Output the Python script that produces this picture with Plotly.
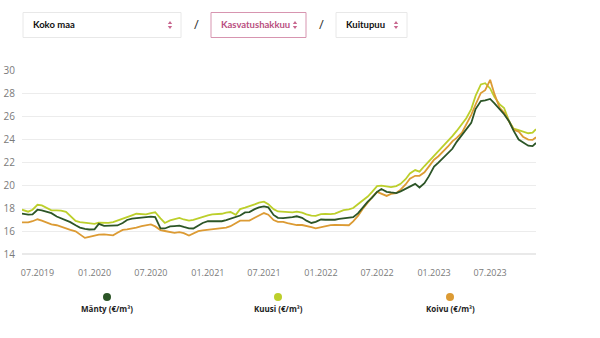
import pandas as pd
import plotly.graph_objects as go

# ---- data ----
dates = (["2019-05-12"] +
         [d.strftime("%Y-%m-%d") for d in pd.date_range("2019-06-01", "2023-11-15", freq="SMS")] +
         ["2023-11-26"])

manty = [17.52, 17.42, 17.45, 17.85, 17.8, 17.67, 17.55, 17.26, 17.12, 16.96,
         16.77, 16.5, 16.3, 16.18, 16.13, 16.15, 16.62, 16.45, 16.44, 16.43,
         16.48, 16.7, 16.96, 17.08, 17.13, 17.16, 17.18, 17.25, 17.2, 16.22,
         16.22, 16.4, 16.43, 16.46, 16.35, 16.23, 16.22, 16.48, 16.7, 16.85,
         16.85, 16.82, 16.85, 16.95, 17.08, 17.2, 17.35, 17.62, 17.65, 17.9,
         18.05, 18.14, 18.05, 17.4, 17.15, 17.12, 17.14, 17.2, 17.28, 17.15,
         16.9, 16.7, 16.8, 17.0, 16.98, 16.96, 16.98, 17.05, 17.1, 17.13,
         17.2, 17.55, 18.05, 18.55, 18.9, 19.4, 19.65, 19.4, 19.35, 19.3,
         19.45, 19.68, 19.9, 20.1, 19.78, 20.15, 20.75, 21.6, 21.95, 22.4,
         22.8, 23.15, 23.75, 24.35, 24.75, 25.4, 26.6, 27.3, 27.35, 27.48,
         27.1, 26.6, 26.15, 25.5, 24.7, 23.95, 23.7, 23.42, 23.38, 23.65]

kuusi = [17.85, 17.68, 17.85, 18.28, 18.22, 17.95, 17.8, 17.8, 17.77, 17.66,
         17.33, 16.88, 16.77, 16.72, 16.66, 16.62, 16.73, 16.73, 16.7, 16.78,
         16.9, 17.06, 17.21, 17.36, 17.5, 17.47, 17.45, 17.55, 17.63, 17.1,
         16.7, 16.92, 17.04, 17.14, 17.0, 16.9, 16.97, 17.12, 17.25, 17.35,
         17.44, 17.47, 17.5, 17.6, 17.65, 17.4, 17.9, 18.03, 18.14, 18.32,
         18.47, 18.55, 18.33, 17.9, 17.7, 17.65, 17.61, 17.62, 17.68, 17.6,
         17.45, 17.34, 17.32, 17.47, 17.48, 17.46, 17.52, 17.68, 17.81, 17.88,
         18.0, 18.35, 18.65, 19.0, 19.4, 19.9, 19.95, 19.87, 19.82, 19.9,
         20.1, 20.5, 21.0, 21.3, 21.16, 21.65, 22.05, 22.55, 22.95, 23.4,
         23.85, 24.25, 24.7, 25.25, 25.8, 26.6, 27.75, 28.74, 28.85, 28.4,
         27.65, 27.0, 26.7, 25.5, 24.9, 24.78, 24.65, 24.5, 24.55, 24.85]

koivu = [16.75, 16.75, 16.85, 17.02, 16.9, 16.68, 16.57, 16.5, 16.36, 16.2,
         16.1, 15.97, 15.72, 15.4, 15.49, 15.6, 15.68, 15.7, 15.67, 15.62,
         15.85, 16.1, 16.15, 16.2, 16.3, 16.42, 16.5, 16.58, 16.4, 16.08,
         16.0, 15.87, 15.83, 15.9, 15.82, 15.6, 15.78, 15.98, 16.05, 16.11,
         16.15, 16.21, 16.25, 16.3, 16.42, 16.67, 16.9, 16.9, 16.9, 17.15,
         17.37, 17.56, 17.42, 16.95, 16.8, 16.79, 16.68, 16.56, 16.52, 16.52,
         16.45, 16.33, 16.23, 16.34, 16.43, 16.51, 16.54, 16.52, 16.5, 16.5,
         16.83, 17.33, 17.9, 18.5, 18.95, 19.4, 19.25, 19.05, 19.22, 19.3,
         19.6, 20.05, 20.55, 20.8, 20.8, 21.1, 21.6, 22.2, 22.5, 22.95,
         23.35, 23.8, 24.1, 24.55, 25.25, 26.1, 27.0, 28.0, 28.25, 29.15,
         27.9, 26.7, 26.3, 25.5, 24.8, 24.65, 24.2, 23.95, 23.92, 24.15]

series_names = ["Mänty (€/m³)", "Kuusi (€/m³)", "Koivu (€/m³)"]
series_colors = ["#2c5527", "#bccf2b", "#dc9b34"]
y_ticks = [14, 16, 18, 20, 22, 24, 26, 28, 30]
selectors = ["Koko maa", "Kasvatushakkuu", "Kuitupuu"]

# ---- figure ----
W, H = 600, 338
ML, MR, MT, MB = 22, 64, 70, 84
PW, PH = W - ML - MR, H - MT - MB


def px(x):
    return (x - ML) / PW


def py(y):
    return (H - MB - y) / PH


fig = go.Figure()
order = [1, 2, 0]  # draw kuusi, koivu, then mänty
data = [manty, kuusi, koivu]
for i in order:
    fig.add_trace(go.Scatter(x=dates, y=data[i], mode="lines", name=series_names[i],
                             line=dict(color=series_colors[i], width=1.8),
                             showlegend=False, hoverinfo="skip"))

FONT = "Open Sans"
fig.update_layout(
    width=W, height=H,
    margin=dict(l=ML, r=MR, t=MT, b=MB, autoexpand=False),
    paper_bgcolor="white", plot_bgcolor="white",
    font=dict(family=FONT),
    xaxis=dict(range=[dates[0], dates[-1]], tickmode="linear", tick0="2019-07-01", dtick="M6",
               tickformat="%m.%Y", showgrid=False, zeroline=False, showline=False,
               automargin=False,
               tickfont=dict(size=9, color="#7a7a7a"), ticks="outside", ticklen=10,
               tickcolor="rgba(0,0,0,0)"),
    yaxis=dict(range=[14, 30], tickvals=y_ticks, showgrid=True, gridcolor="#ececec",
               gridwidth=1, zeroline=False, showline=False, automargin=False,
               tickfont=dict(size=10, color="#7a7a7a"), ticks="outside", ticklen=4,
               tickcolor="rgba(0,0,0,0)"),
)

# bottom axis line slightly stronger
fig.add_shape(type="line", xref="paper", yref="paper", x0=0, x1=1, y0=0, y1=0,
              line=dict(color="#e2e2e2", width=1.5))

# selector boxes
boxes = [(23, 181, "#e8e8e8", "#111111"), (211, 306, "#d795b0", "#b94f7f"), (336, 407, "#e8e8e8", "#111111")]
for (x0, x1, border, tcol), label in zip(boxes, selectors):
    fig.add_shape(type="rect", xref="paper", yref="paper", x0=px(x0), x1=px(x1),
                  y0=py(37.5), y1=py(12.5), line=dict(color=border, width=1), fillcolor="white")
    fig.add_annotation(xref="paper", yref="paper", x=px(x0 + 8), y=py(25), text="<b>" + label + "</b>",
                       showarrow=False, xanchor="left", yanchor="middle",
                       font=dict(family="Lato", size=9.5, color=tcol))
    ax = x1 - 11
    # up/down arrows
    fig.add_shape(type="path", xref="paper", yref="paper",
                  path=f"M {px(ax-2.2)} {py(24)} L {px(ax+2.2)} {py(24)} L {px(ax)} {py(21)} Z",
                  fillcolor="#c8678f", line=dict(width=0))
    fig.add_shape(type="path", xref="paper", yref="paper",
                  path=f"M {px(ax-2.2)} {py(26)} L {px(ax+2.2)} {py(26)} L {px(ax)} {py(29)} Z",
                  fillcolor="#c8678f", line=dict(width=0))

for sx in (196, 321):
    fig.add_annotation(xref="paper", yref="paper", x=px(sx), y=py(24), text="/", showarrow=False,
                       xanchor="center", yanchor="middle",
                       font=dict(family=FONT, size=13, color="#333333"))

# legend
leg_x = [107, 278, 450]
for cx, name, col in zip(leg_x, series_names, series_colors):
    r = 4
    fig.add_shape(type="circle", xref="paper", yref="paper", x0=px(cx - r), x1=px(cx + r),
                  y0=py(297 + r), y1=py(297 - r), fillcolor=col, line=dict(width=0))
    fig.add_annotation(xref="paper", yref="paper", x=px(cx), y=py(308), text="<b>" + name + "</b>",
                       showarrow=False, xanchor="center", yanchor="middle",
                       font=dict(family=FONT, size=8, color="#222222"))

fig.write_html("out.html")
